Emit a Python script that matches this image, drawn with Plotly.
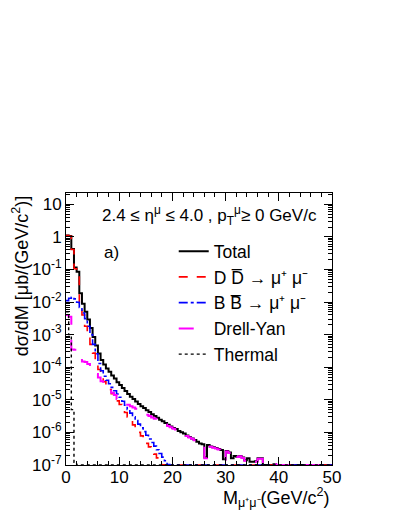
import plotly.graph_objects as go

# ---------------- data (bin width 0.5 GeV/c^2, 0..50) ----------------
bin_width = 0.5
n_bins = 100

total = [1.1, 1.05, 0.42, 0.115, 0.085, 0.0185, 0.0088, 0.0050, 0.0029, 0.0016,
         8.5e-4, 4.6e-4, 2.63e-4, 1.65e-4, 1.21e-4, 9.2e-5, 7.25e-5, 5.6e-5, 4.5e-5, 3.48e-5,
         2.84e-5, 2.3e-5, 1.87e-5, 1.51e-5, 1.245e-5, 1.05e-5, 8.9e-6, 7.5e-6, 6.36e-6, 5.56e-6,
         4.78e-6, 4.19e-6, 3.62e-6, 3.2e-6, 2.81e-6, 2.46e-6, 2.2e-6, 1.95e-6, 1.72e-6, 1.52e-6,
         1.36e-6, 1.27e-6, 1.1e-6, 1.01e-6, 9.2e-7, 8.0e-7, 7.2e-7, 6.5e-7, 5.8e-7, 5.2e-7,
         4.6e-7, 4.3e-7, 1.7e-7, 4.1e-7, 3.7e-7, 3.5e-7, 3.3e-7, 3.1e-7, 2.9e-7, 1.5e-7,
         2.7e-7, 2.4e-7, 1.6e-7, 1.9e-7, 1.8e-7, 1.9e-7, 1.7e-7, 1.4e-7, 1.6e-7, 1.25e-7,
         1.25e-7, 1.3e-7, 1.6e-7, 1.6e-7, 1e-7, 1e-7, 1e-7, 1e-7, 1.05e-7, 1e-7,
         1e-7, 1e-7, 1e-7, 1e-7, 1e-7, 1e-7, 1e-7, 1e-7, 1e-7, 1e-7,
         1e-7, 1e-7, 1e-7, 1e-7, 1e-7, 1e-7, 1e-7, 1e-7, 1e-7, 1e-7]

dd = [1.1, 1.04, 0.41, 0.105, 0.07, 0.0095, 0.0040, 0.0018, 9.5e-4, 5.0e-4,
      2.7e-4, 1.5e-4, 8.5e-5, 5.0e-5, 3.6e-5, 2.7e-5, 2.05e-5, 1.55e-5, 1.2e-5, 9.3e-6,
      7.2e-6, 5.5e-6, 4.1e-6, 3.0e-6, 2.25e-6, 1.7e-6, 1.3e-6, 1.0e-6, 7.8e-7, 6.0e-7,
      4.6e-7, 3.6e-7, 2.8e-7, 2.15e-7, 1.65e-7, 1.3e-7, 1.02e-7] + [1e-7] * 63

bb = [0.011, 0.013, 0.014, 0.0125, 0.0098, 0.0068, 0.0046, 0.0031, 0.0018, 0.0010,
      5.0e-4, 2.6e-4, 1.3e-4, 7.8e-5, 5.3e-5, 4.0e-5, 3.1e-5, 2.4e-5, 1.9e-5, 1.5e-5,
      1.2e-5, 9.0e-6, 6.8e-6, 5.1e-6, 3.9e-6, 3.0e-6, 2.3e-6, 1.8e-6, 1.38e-6, 1.06e-6,
      8.2e-7, 6.3e-7, 4.9e-7, 3.8e-7, 2.95e-7, 2.25e-7, 1.75e-7, 1.35e-7, 1.04e-7] + [1e-7] * 61

dy = [4.0e-3, 3.5e-3, 3.5e-4, 3.45e-4, 3.35e-4, 2.4e-4, 1.5e-4, 1.45e-4, 1.25e-4, 9.5e-5,
      7.6e-5, 6.2e-5, 4.8e-5, 3.7e-5, 3.2e-5, 2.5e-5, 2.1e-5, 1.65e-5, 1.4e-5, 1.05e-5,
      9.2e-6, 8.5e-6, 7.8e-6, 7.0e-6, 6.3e-6, 5.8e-6, 5.3e-6, 4.7e-6, 4.2e-6, 3.9e-6,
      3.5e-6, 3.2e-6, 2.85e-6, 2.6e-6, 2.35e-6, 2.1e-6, 1.92e-6, 1.75e-6, 1.57e-6, 1.44e-6,
      1.3e-6, 1.22e-6, 1.06e-6, 9.8e-7, 9.0e-7, 7.8e-7, 7.0e-7, 6.4e-7, 5.7e-7, 5.1e-7,
      4.5e-7, 4.2e-7, 1.6e-7, 4.0e-7, 3.6e-7, 3.4e-7, 3.2e-7, 3.0e-7, 2.8e-7, 1.45e-7,
      2.6e-7, 2.35e-7, 1.55e-7, 1.85e-7, 1.75e-7, 1.85e-7, 1.65e-7, 1.35e-7, 1.55e-7, 1.2e-7,
      1.2e-7, 1.25e-7, 1.55e-7, 1.55e-7, 1e-7, 1e-7, 1e-7, 1e-7, 1.05e-7, 1e-7,
      1e-7, 1e-7, 1e-7, 1e-7, 1e-7, 1e-7, 1e-7, 1e-7, 1e-7, 1e-7,
      1e-7, 1e-7, 1e-7, 1e-7, 1e-7, 1e-7, 1e-7, 1e-7, 1e-7, 1e-7]

thermal = [5e-3, 1e-3, 5e-6, 1.2e-7] + [1e-7] * 96

x_tick_vals = [0, 10, 20, 30, 40, 50]
y_tick_vals = [1e-7, 1e-6, 1e-5, 1e-4, 1e-3, 1e-2, 1e-1, 1, 10]
y_tick_text = ["10<sup>-7</sup>", "10<sup>-6</sup>", "10<sup>-5</sup>", "10<sup>-4</sup>",
               "10<sup>-3</sup>", "10<sup>-2</sup>", "10<sup>-1</sup>", "1", "10"]

series_names = ["Total", "D D\u0305 \u2192 \u03bc\u207a \u03bc\u207b",
                "B B\u0305 \u2192 \u03bc\u207a \u03bc\u207b", "Drell-Yan", "Thermal"]

# ---------------- figure ----------------
FONT = "Liberation Sans, Arial, Helvetica, sans-serif"
edges = [i * bin_width for i in range(n_bins + 1)]


def hist_xy(vals):
    return edges, list(vals) + [vals[-1]]


styles = [
    dict(color="black", width=2, dash="solid"),
    dict(color="#ff0000", width=1.6, dash="dash"),
    dict(color="#0000ff", width=1.6, dash="dashdot"),
    dict(color="#ff00ff", width=2, dash="longdash"),
    dict(color="black", width=1.4, dash="dot"),
]

fig = go.Figure()
for name, vals, st in zip(series_names, [total, dd, bb, dy, thermal], styles):
    xs, ys = hist_xy(vals)
    fig.add_trace(go.Scatter(x=xs, y=ys, mode="lines", name=name,
                             line=dict(shape="hv", **st)))

fig.update_layout(
    width=399, height=516,
    margin=dict(l=66, r=67, t=193, b=51),
    paper_bgcolor="white", plot_bgcolor="white",
    font=dict(family=FONT, size=17, color="black"),
    showlegend=True,
    legend=dict(x=0.405, y=0.852, xanchor="left", yanchor="top",
                bgcolor="rgba(0,0,0,0)", font=dict(size=17.5, family=FONT),
                itemwidth=30, tracegroupgap=0),
)

fig.update_xaxes(
    range=[0, 50], showline=True, linecolor="black", linewidth=1, mirror="allticks",
    ticks="inside", ticklen=8, tickcolor="black", tickvals=x_tick_vals,
    tickfont=dict(size=17), showgrid=False, zeroline=False, automargin=False,
    ticklabelstandoff=-3,
    minor=dict(ticks="inside", ticklen=4, dtick=2, tickcolor="black", showgrid=False),
)
fig.update_yaxes(
    type="log", range=[-7, 1.344], showline=True, linecolor="black", linewidth=1,
    mirror="allticks", ticks="inside", ticklen=8, tickcolor="black",
    tickvals=y_tick_vals, ticktext=y_tick_text, tickfont=dict(size=17),
    showgrid=False, zeroline=False, automargin=False,
    minor=dict(ticks="inside", ticklen=4, dtick="D1", tickcolor="black", showgrid=False),
)

fig.add_annotation(text="d\u03c3/dM [\u03bcb/(GeV/c<sup>2</sup>)]", textangle=-90,
                   xref="paper", yref="paper", x=-0.17, y=1.0,
                   xanchor="center", yanchor="top", showarrow=False,
                   font=dict(size=18, family=FONT))
fig.add_annotation(text="M<sub>\u03bc\u207a\u03bc\u207b</sub>(GeV/c<sup>2</sup>)",
                   xref="paper", yref="paper", x=1.0, y=-0.121,
                   xanchor="right", yanchor="middle", showarrow=False,
                   font=dict(size=18, family=FONT))
fig.add_annotation(text="2.4 \u2264 \u03b7<sup>\u03bc</sup> \u2264 4.0 , p<sub>T</sub><sup>\u03bc</sup>\u2265 0 GeV/c",
                   xref="paper", yref="paper", x=0.128, y=0.919,
                   xanchor="left", yanchor="middle", showarrow=False,
                   font=dict(size=17, family=FONT))
fig.add_annotation(text="a)", xref="paper", yref="paper", x=0.135, y=0.783,
                   xanchor="left", yanchor="middle", showarrow=False,
                   font=dict(size=17, family=FONT))

fig.write_html("out.html", config={"displayModeBar": False},
               post_script="document.body.style.margin='0px';")
